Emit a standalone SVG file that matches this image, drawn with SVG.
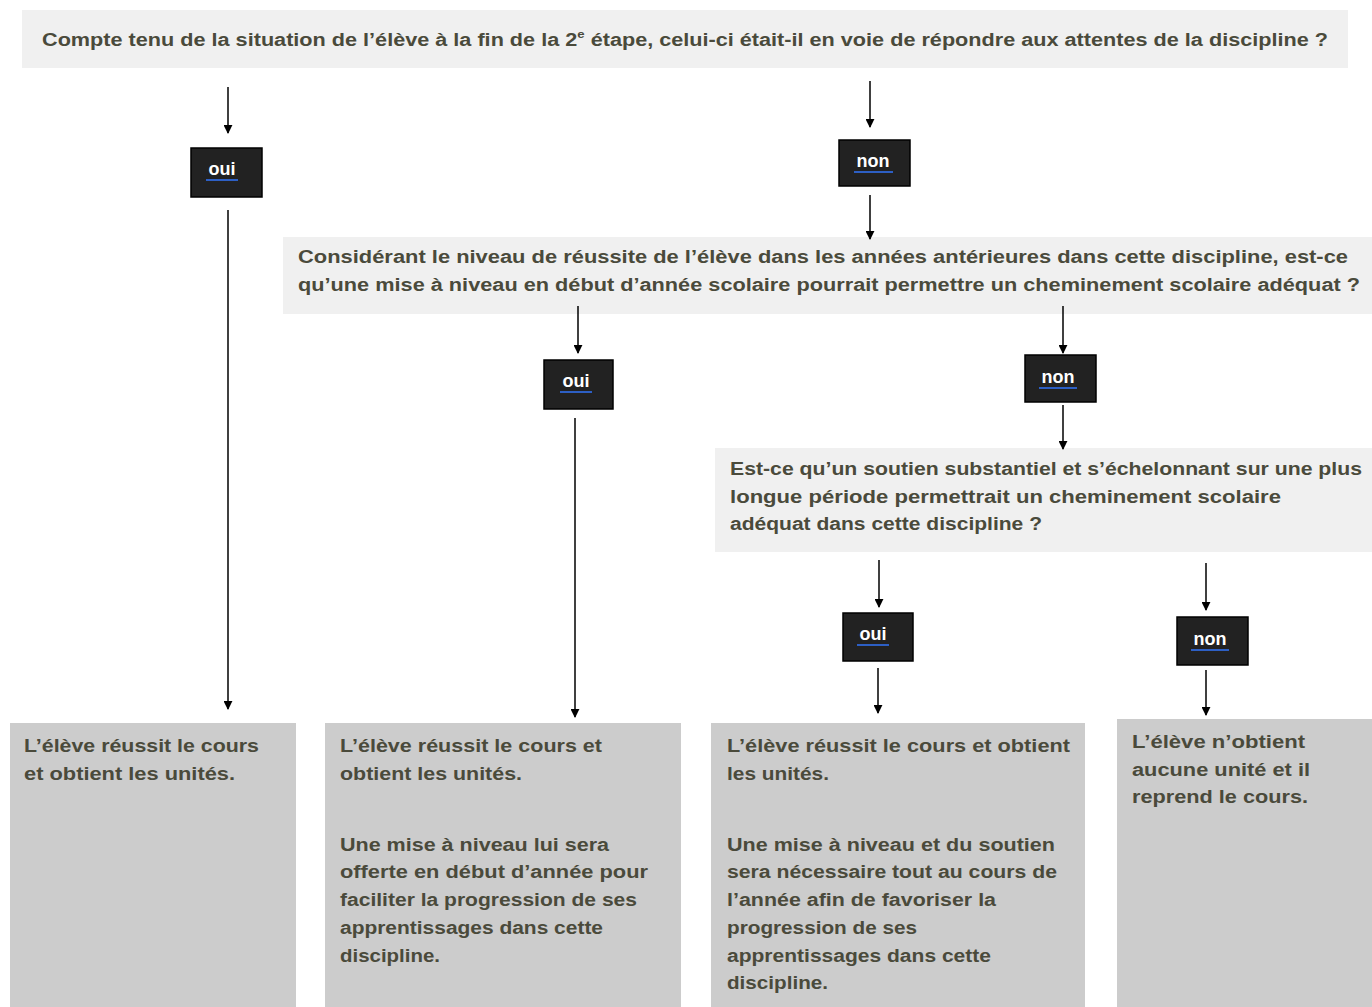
<svg xmlns="http://www.w3.org/2000/svg" width="1372" height="1007" viewBox="0 0 1372 1007">
<defs>
<marker id="ah" viewBox="0 0 10 10" refX="9" refY="5" markerWidth="9" markerHeight="9" markerUnits="userSpaceOnUse" orient="auto">
<path d="M0,0 L10,5 L0,10 z" fill="#000"/>
</marker>
<style>
.q{fill:#f0f0f0}
.r{fill:#cccccc}
.t{font-family:"Liberation Sans",Arial,sans-serif;font-weight:bold;font-size:18px;fill:#4a4a3b}
.lb{fill:#222;stroke:#000;stroke-width:1.5}
.lt{font-family:"Liberation Sans",Arial,sans-serif;font-weight:bold;font-size:18px;fill:#fff;text-anchor:middle}
.ul{stroke:#2d5fc4;stroke-width:2}
.c{stroke:#000;stroke-width:1.5;fill:none;marker-end:url(#ah)}
</style>
</defs>
<rect width="1372" height="1007" fill="#fff"/>

<g id="q1">
<rect class="q" x="22" y="10" width="1326" height="58"/>
<text class="t" x="42" y="46" font-size="19" textLength="1286" lengthAdjust="spacingAndGlyphs">Compte tenu de la situation de l’élève à la fin de la 2<tspan font-size="11" dy="-8">e</tspan><tspan dy="8"> étape, celui-ci était-il en voie de répondre aux attentes de la discipline ?</tspan></text>
</g>

<g id="oui1">
<rect class="lb" x="191" y="148" width="71" height="49"/>
<text class="lt" x="222" y="175">oui</text>
<line class="ul" x1="206" y1="180" x2="238" y2="180"/>
</g>

<g id="non1">
<rect class="lb" x="839" y="140" width="71" height="46"/>
<text class="lt" x="873" y="167">non</text>
<line class="ul" x1="854" y1="172" x2="893" y2="172"/>
</g>

<g id="q2">
<rect class="q" x="283" y="237" width="1089" height="77"/>
<text class="t" x="298" y="263" textLength="1050" lengthAdjust="spacingAndGlyphs">Considérant le niveau de réussite de l’élève dans les années antérieures dans cette discipline, est-ce</text>
<text class="t" x="298" y="291" textLength="1062" lengthAdjust="spacingAndGlyphs">qu’une mise à niveau en début d’année scolaire pourrait permettre un cheminement scolaire adéquat ?</text>
</g>

<g id="oui2">
<rect class="lb" x="544" y="360" width="69" height="49"/>
<text class="lt" x="576" y="387">oui</text>
<line class="ul" x1="560" y1="392" x2="592" y2="392"/>
</g>

<g id="non2">
<rect class="lb" x="1025" y="355" width="71" height="47"/>
<text class="lt" x="1058" y="383">non</text>
<line class="ul" x1="1039" y1="388" x2="1077" y2="388"/>
</g>

<g id="q3">
<rect class="q" x="715" y="448" width="657" height="104"/>
<text class="t" x="730" y="475" textLength="632" lengthAdjust="spacingAndGlyphs">Est-ce qu’un soutien substantiel et s’échelonnant sur une plus</text>
<text class="t" x="730" y="503" textLength="551" lengthAdjust="spacingAndGlyphs">longue période permettrait un cheminement scolaire</text>
<text class="t" x="730" y="530" textLength="312" lengthAdjust="spacingAndGlyphs">adéquat dans cette discipline ?</text>
</g>

<g id="oui3">
<rect class="lb" x="843" y="613" width="70" height="48"/>
<text class="lt" x="873" y="640">oui</text>
<line class="ul" x1="857" y1="645" x2="889" y2="645"/>
</g>

<g id="non3">
<rect class="lb" x="1177" y="617" width="71" height="48"/>
<text class="lt" x="1210" y="645">non</text>
<line class="ul" x1="1191" y1="650" x2="1229" y2="650"/>
</g>

<g id="r1">
<rect class="r" x="10" y="723" width="286" height="284"/>
<text class="t" x="24" y="752" textLength="235" lengthAdjust="spacingAndGlyphs">L’élève réussit le cours</text>
<text class="t" x="24" y="780" textLength="211" lengthAdjust="spacingAndGlyphs">et obtient les unités.</text>
</g>

<g id="r2">
<rect class="r" x="325" y="723" width="356" height="284"/>
<text class="t" x="340" y="752" textLength="262" lengthAdjust="spacingAndGlyphs">L’élève réussit le cours et</text>
<text class="t" x="340" y="780" textLength="182" lengthAdjust="spacingAndGlyphs">obtient les unités.</text>
<text class="t" x="340" y="851" textLength="269" lengthAdjust="spacingAndGlyphs">Une mise à niveau lui sera</text>
<text class="t" x="340" y="878" textLength="308" lengthAdjust="spacingAndGlyphs">offerte en début d’année pour</text>
<text class="t" x="340" y="906" textLength="297" lengthAdjust="spacingAndGlyphs">faciliter la progression de ses</text>
<text class="t" x="340" y="934" textLength="263" lengthAdjust="spacingAndGlyphs">apprentissages dans cette</text>
<text class="t" x="340" y="962" textLength="100" lengthAdjust="spacingAndGlyphs">discipline.</text>
</g>

<g id="r3">
<rect class="r" x="711" y="723" width="374" height="284"/>
<text class="t" x="727" y="752" textLength="343" lengthAdjust="spacingAndGlyphs">L’élève réussit le cours et obtient</text>
<text class="t" x="727" y="780" textLength="102" lengthAdjust="spacingAndGlyphs">les unités.</text>
<text class="t" x="727" y="851" textLength="328" lengthAdjust="spacingAndGlyphs">Une mise à niveau et du soutien</text>
<text class="t" x="727" y="878" textLength="330" lengthAdjust="spacingAndGlyphs">sera nécessaire tout au cours de</text>
<text class="t" x="727" y="906" textLength="269" lengthAdjust="spacingAndGlyphs">l’année afin de favoriser la</text>
<text class="t" x="727" y="934" textLength="190" lengthAdjust="spacingAndGlyphs">progression de ses</text>
<text class="t" x="727" y="962" textLength="264" lengthAdjust="spacingAndGlyphs">apprentissages dans cette</text>
<text class="t" x="727" y="989" textLength="101" lengthAdjust="spacingAndGlyphs">discipline.</text>
</g>

<g id="r4">
<rect class="r" x="1117" y="719" width="255" height="288"/>
<text class="t" x="1132" y="748" textLength="173" lengthAdjust="spacingAndGlyphs">L’élève n’obtient</text>
<text class="t" x="1132" y="776" textLength="178" lengthAdjust="spacingAndGlyphs">aucune unité et il</text>
<text class="t" x="1132" y="803" textLength="176" lengthAdjust="spacingAndGlyphs">reprend le cours.</text>
</g>

<g id="connectors">
<line class="c" x1="228" y1="87" x2="228" y2="133"/>
<line class="c" x1="870" y1="81" x2="870" y2="127"/>
<line class="c" x1="870" y1="195" x2="870" y2="239"/>
<line class="c" x1="228" y1="210" x2="228" y2="709"/>
<line class="c" x1="578" y1="306" x2="578" y2="353"/>
<line class="c" x1="1063" y1="306" x2="1063" y2="353"/>
<line class="c" x1="575" y1="418" x2="575" y2="717"/>
<line class="c" x1="1063" y1="405" x2="1063" y2="449"/>
<line class="c" x1="879" y1="560" x2="879" y2="607"/>
<line class="c" x1="878" y1="668" x2="878" y2="713"/>
<line class="c" x1="1206" y1="563" x2="1206" y2="610"/>
<line class="c" x1="1206" y1="670" x2="1206" y2="715"/>
</g>
</svg>
